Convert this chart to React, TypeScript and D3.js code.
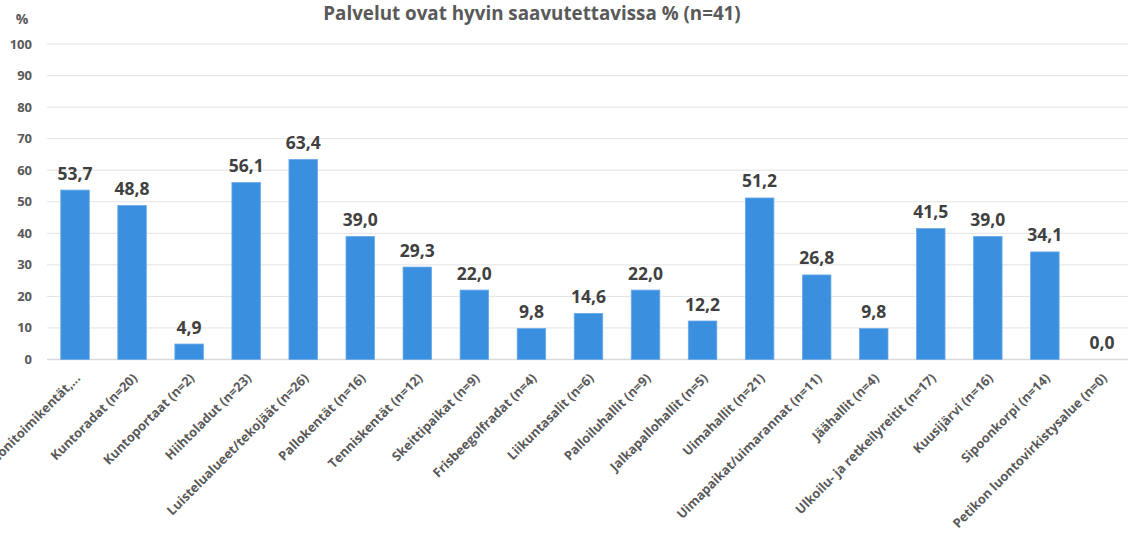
import React from "react";
import * as d3 from "d3";

const categories: string[] = [
  "Lähiliikuntapaikat, monitoimikentät,...",
  "Kuntoradat (n=20)",
  "Kuntoportaat (n=2)",
  "Hiihtoladut (n=23)",
  "Luistelualueet/tekojäät (n=26)",
  "Pallokentät (n=16)",
  "Tenniskentät (n=12)",
  "Skeittipaikat (n=9)",
  "Frisbeegolfradat (n=4)",
  "Liikuntasalit (n=6)",
  "Palloiluhallit (n=9)",
  "Jalkapallohallit (n=5)",
  "Uimahallit (n=21)",
  "Uimapaikat/uimarannat (n=11)",
  "Jäähallit (n=4)",
  "Ulkoilu- ja retkeilyreitit (n=17)",
  "Kuusijärvi (n=16)",
  "Sipoonkorpi (n=14)",
  "Petikon luontovirkistysalue (n=0)",
];

const values: number[] = [
  53.7, 48.8, 4.9, 56.1, 63.4, 39.0, 29.3, 22.0, 9.8, 14.6, 22.0, 12.2, 51.2,
  26.8, 9.8, 41.5, 39.0, 34.1, 0.0,
];

const yTicks: number[] = [0, 10, 20, 30, 40, 50, 60, 70, 80, 90, 100];

const title = "Palvelut ovat hyvin saavutettavissa % (n=41)";
const yUnit = "%";

const W = 1128;
const H = 558;
const FONT = "'Open Sans', 'DejaVu Sans', sans-serif";

export default function App() {
  const x = d3
    .scaleBand<string>()
    .domain(categories)
    .range([46.5, 46.5 + 57.05 * categories.length])
    .paddingInner(0.5)
    .paddingOuter(0.25);
  const y = d3.scaleLinear().domain([0, 100]).range([359.5, 44]);
  const fmt = (v: number) => v.toFixed(1).replace(".", ",");

  return (
    <svg
      width={W}
      height={H}
      style={{ position: "absolute", left: 0, top: 0, background: "#fff" }}
      fontFamily={FONT}
    >
      <text
        x={532}
        y={20}
        textAnchor="middle"
        fontSize={18.8}
        fontWeight={700}
        fill="#595959"
      >
        {title}
      </text>
      <text x={22} y={24} textAnchor="middle" fontSize={14} fontWeight={700} fill="#595959">
        {yUnit}
      </text>
      {yTicks.map((t) => (
        <g key={t}>
          <line
            x1={47}
            x2={W}
            y1={y(t)}
            y2={y(t)}
            stroke={t === 0 ? "#d9d9d9" : "#e3e3e3"}
            strokeWidth={t === 0 ? 1.5 : 1}
          />
          <text
            x={32}
            y={y(t) + 4.5}
            textAnchor="end"
            fontSize={13}
            fontWeight={700}
            fill="#595959"
          >
            {t}
          </text>
        </g>
      ))}
      {categories.map((c, i) => {
        const bx = x(c) as number;
        const bw = x.bandwidth();
        const v = values[i];
        return (
          <g key={c}>
            {v > 0 && (
              <rect
                x={bx}
                y={y(v)}
                width={bw}
                height={y(0) - y(v)}
                fill="#3b8fdf"
                stroke="#6aaae8"
                strokeWidth={0.8}
              />
            )}
            <text
              x={bx + bw / 2}
              y={y(v) - 10.5}
              textAnchor="middle"
              fontSize={17.5}
              fontWeight={700}
              fill="#404040"
            >
              {fmt(v)}
            </text>
            <text
              transform={`translate(${bx + bw / 2 + 6},${379}) rotate(-45)`}
              textAnchor="end"
              fontSize={12.8}
              fontWeight={700}
              fill="#595959"
            >
              {c}
            </text>
          </g>
        );
      })}
    </svg>
  );
}
